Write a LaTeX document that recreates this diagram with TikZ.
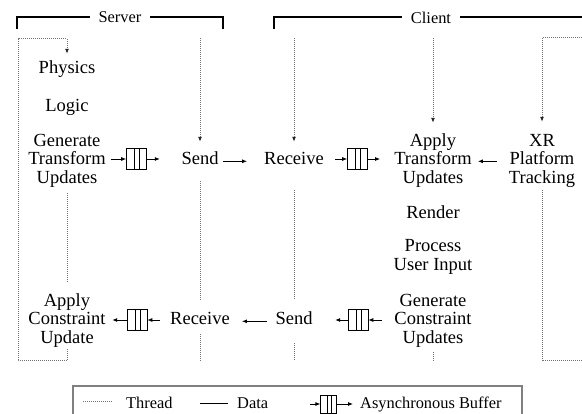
\documentclass[tikz,border=0pt]{standalone}
\usepackage{fontspec}
\setmainfont{Liberation Serif}
\usetikzlibrary{arrows.meta}
\newcommand\mainfnt{\fontsize{18.5}{18.5}\selectfont\lineskiplimit=-10pt}
\newcommand\legfnt{\fontsize{16.4}{19}\selectfont}
\begin{document}
\begin{tikzpicture}[x=1pt,y=-1pt,
  >={Latex[length=5pt,width=4pt]},
  lbl/.style={font=\mainfnt, align=center, inner sep=0pt},
  thread/.style={draw=black!55, line width=1pt, dash pattern=on 1pt off 1pt},
  tarrow/.style={-{Latex[length=5pt,width=4pt,color=black!85]}},
  data/.style={draw=black, line width=0.8pt},
  bracket/.style={draw=black, line width=1.8pt},
  blabel/.style={font=\legfnt, fill=white, inner xsep=9pt, inner ysep=2pt},
  legtext/.style={font=\legfnt, anchor=base west, inner sep=0pt},
  legendbox/.style={draw=black!50, line width=1.2pt},
  buffer/.style={draw=black, line width=0.7pt, minimum width=20pt, minimum height=21pt, inner sep=0pt,
    path picture={
      \draw[line width=0.6pt] ([xshift=8pt]path picture bounding box.north west) -- ([xshift=8pt]path picture bounding box.south west);
      \draw[line width=0.6pt] ([xshift=13pt]path picture bounding box.north west) -- ([xshift=13pt]path picture bounding box.south west);}},
  legbuffer/.style={draw=black, line width=0.7pt, minimum width=16pt, minimum height=18pt, inner sep=0pt,
    path picture={
      \draw[line width=0.6pt] ([xshift=6.5pt]path picture bounding box.north west) -- ([xshift=6.5pt]path picture bounding box.south west);
      \draw[line width=0.6pt] ([xshift=10.5pt]path picture bounding box.north west) -- ([xshift=10.5pt]path picture bounding box.south west);}}
]
\useasboundingbox (0,0) rectangle (582,414);

% helper coordinates
\coordinate (ctl) at (18,39);
\coordinate (cbl) at (18,361);
\coordinate (csend) at (200,38);
\coordinate (crecv) at (294,38);
\coordinate (catu) at (433,38);
\coordinate (cxrt) at (592,38);
\coordinate (cxrb) at (592,361);

% brackets
\coordinate (sL) at (17,17);
\coordinate (sR) at (223,17);
\coordinate (cL) at (274,17);
\coordinate (cR) at (588,17);
\draw[bracket] ([yshift=-12pt]sL) -- (sL) -- (sR) -- ([yshift=-12pt]sR);
\draw[bracket] ([yshift=-12pt]cL) -- (cL) -- (cR) -- ([yshift=-12pt]cR);
\node[blabel] (server) at (120,17.5) {Server};
\node[blabel] (client) at (431,17.5) {Client};

% text nodes
\node[lbl] (physics) at (67,70.3) {\strut Physics};
\node[lbl] (logic) at (67,108.3) {\strut Logic};
\node[lbl] (gtu) at (67,161.3) {\strut Generate\\Transform\\Updates\strut};
\node[lbl] (send) at (200,161.3) {\strut Send};
\node[lbl] (recv) at (294,161.3) {\strut Receive};
\node[lbl] (atu) at (433,161.3) {\strut Apply\\Transform\\Updates\strut};
\node[lbl] (xr) at (542,161.3) {\strut XR\\Platform\\Tracking\strut};
\node[lbl] (render) at (433,215.3) {\strut Render};
\node[lbl] (process) at (433,257.55) {\strut Process\\User Input\strut};
\node[lbl] (gcu) at (433,321.3) {\strut Generate\\Constraint\\Updates\strut};
\node[lbl] (acu) at (67,321.3) {\strut Apply\\Constraint\\Update\strut};
\node[lbl] (recvB) at (200,321.3) {\strut Receive};
\node[lbl] (sendB) at (294,321.3) {\strut Send};

% buffers
\node[buffer] (buf1) at (136.5,159) {};
\node[buffer] (buf2) at (357.5,159) {};
\node[buffer] (buf3) at (137,320) {};
\node[buffer] (buf4) at (358,320) {};

% threads
\draw[thread,tarrow,shorten >=7pt] (acu) -- (acu |- cbl) -- (cbl) -- (ctl) -- (physics |- ctl) -- (physics);
\draw[thread,shorten <=4pt,shorten >=11.5pt] (gtu) -- (acu);
\draw[thread,tarrow,shorten >=10pt] (csend) -- (send);
\draw[thread,shorten <=10.5pt,shorten >=12pt] (send) -- (recvB);
\draw[thread,shorten <=3.5pt] (recvB) -- (recvB |- cbl);
\draw[thread,tarrow,shorten >=10pt] (crecv) -- (recv);
\draw[thread,shorten <=19.5pt,shorten >=12pt] (recv) -- (sendB);
\draw[thread,shorten <=12.5pt] (sendB) -- (sendB |- cbl);
\draw[thread,tarrow,shorten >=10.5pt] (catu) -- (atu);
\draw[thread,shorten <=3pt] (gcu) -- (gcu |- cbl);
\draw[thread,tarrow,shorten >=11.5pt] (cxrt) -- (xr |- cxrt) -- (xr);
\draw[thread,shorten <=1pt] (xr) -- (xr |- cbl) -- (cxrb);

% data, top row
\draw[data,->,shorten <=5pt] (gtu.east |- buf1.west) -- (buf1.west);
\draw[data,->,shorten >=21.5pt] (buf1.east) -- (buf1.east -| send.west);
\draw[data,->,shorten <=4.5pt,shorten >=17pt] (send) -- (recv);
\draw[data,->,shorten <=11pt] (recv.east |- buf2.west) -- (buf2.west);
\draw[data,->,shorten >=14pt] (buf2.east) -- (buf2.east -| atu.west);
\draw[data,->,shorten <=11.6pt,shorten >=6pt] (xr) -- (atu);

% data, bottom row
\draw[data,->,shorten <=12.5pt] (gcu.west |- buf4.east) -- (buf4.east);
\draw[data,->,shorten >=22.5pt] (buf4.west) -- (buf4.west -| sendB.east);
\draw[data,->,shorten <=8.5pt,shorten >=12pt] (sendB) -- (recvB);
\draw[data,->,shorten <=10pt] (recvB.west |- buf3.east) -- (buf3.east);
\draw[data,->,shorten >=6.5pt] (buf3.west) -- (buf3.west -| acu.east);

% legend
\draw[legendbox] (73,386) rectangle (522,440);
\coordinate (lt1) at (83,402);
\coordinate (lt2) at (113,402);
\coordinate (ld1) at (200,403);
\coordinate (ld2) at (228,403);
\coordinate (la1) at (310,404);
\coordinate (la2) at (353,404);
\node[legbuffer] (lbuf) at (328.7,404) {};
\draw[thread] (lt1) -- (lt2);
\draw[data] (ld1) -- (ld2);
\draw[data,->] (la1) -- (lbuf.west);
\draw[data,->] (lbuf.east) -- (la2);
\node[legtext] (lthread) at (126,408.5) {Thread};
\node[legtext] (ldata) at (237,408.5) {Data};
\node[legtext] (lasync) at (360,408.5) {Asynchronous Buffer};
\end{tikzpicture}
\end{document}
